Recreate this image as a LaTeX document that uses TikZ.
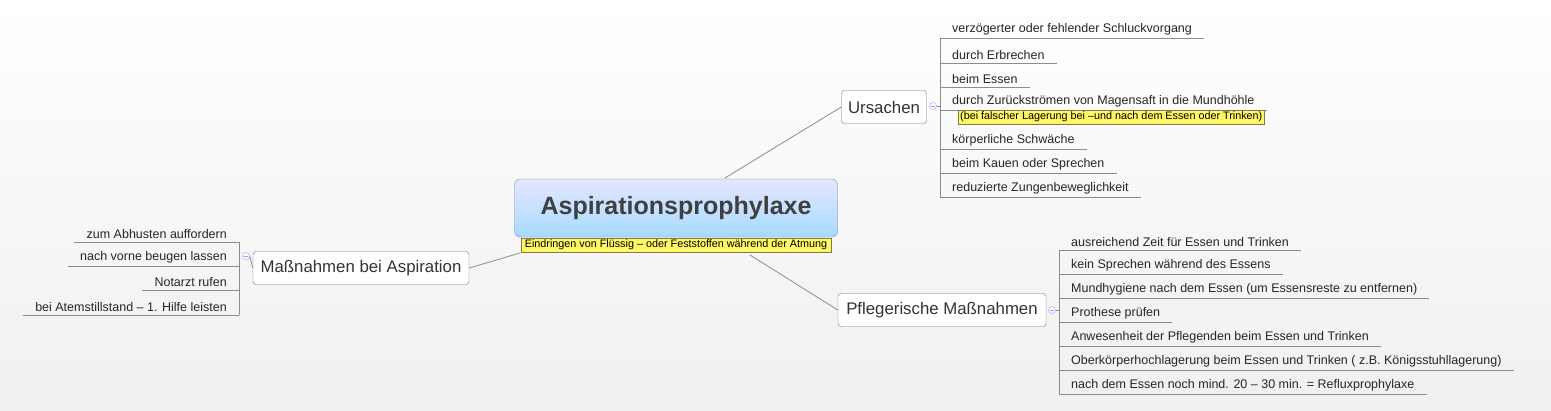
\documentclass[tikz,border=0pt]{standalone}
\usepackage{fontspec}
\setmainfont{Liberation Sans}
\begin{document}
\begin{tikzpicture}[x=1pt,y=-1pt,
  ln/.style={draw=black!45,line width=0.8pt},
  topic/.style={draw=black!55,rounded corners=3pt,fill=white,inner xsep=6pt,minimum height=33pt,font=\fontsize{16.8}{19}\selectfont,text=black!80},
  item/.style={inner xsep=12pt,inner ysep=3pt,font=\fontsize{12.5}{14}\selectfont,text=black!85},
  note/.style={draw=black!40!yellow!70!black,fill=yellow!60,inner sep=2pt,font=\fontsize{10.8}{12}\selectfont},
  knob/.style={circle,draw=blue!40,fill=white,inner sep=0pt,minimum size=7pt}]
\fill[top color=white,bottom color=black!6] (0,0) rectangle (1551,410);
\useasboundingbox (0,0) rectangle (1551,410);
% central
\node[draw=blue!40!black!50,rounded corners=6pt,top color=blue!10,bottom color=blue!40!cyan!35,minimum width=323pt,minimum height=58pt,font=\fontsize{25}{29}\selectfont\bfseries,text=black!75] (c) at (676,208) {Aspirationsprophylaxe};
\node[note,minimum width=310pt] (cn) at (676,245) {Eindringen von Flüssig -- oder Feststoffen während der Atmung};
% topics
\node[topic,minimum width=85pt] (u) at (884,107) {Ursachen};
\node[topic,minimum width=208pt] (p) at (942,310) {Pflegerische Maßnahmen};
\node[topic,minimum width=216pt] (m) at (361,268) {Maßnahmen bei Aspiration};
\coordinate (c1) at (725,178);
\coordinate (c2) at (750,255);
\coordinate (c3) at (520,253);
\draw[ln] (c1) -- (u.west);
\draw[ln] (c2) -- (p.west);
\draw[ln] (c3) -- (m.east);
% knobs
\node[knob] (ku) at (933,106) {};
\node[knob] (kp) at (1052,310) {};
\node[knob] (km) at (246,256) {};
\foreach \k in {ku,kp,km}{\draw[blue!40,line width=0.6pt] ([xshift=-2pt]\k.center) -- ([xshift=2pt]\k.center);}
% Ursachen items
\foreach \n/\y/\t in {u1/38/verzögerter oder fehlender Schluckvorgang,u2/63/durch Erbrechen,u3/87/beim Essen,u4/110/durch Zurückströmen von Magensaft in die Mundhöhle,u5/149/körperliche Schwäche,u6/173/beim Kauen oder Sprechen,u7/197/reduzierte Zungenbeweglichkeit}{
  \node[item,anchor=south west] (\n) at (940,\y) {\t};
  \draw[ln] (\n.south west) -- (\n.south east);}
\node[note,anchor=west] (un) at (958,117) {(bei falscher Lagerung bei --und nach dem Essen oder Trinken)};
\draw[ln] (ku.east) -- (940,106);
\draw[ln] (u1.south west) -- (u7.south west);
% Pflegerische items
\foreach \n/\y/\t in {p1/250/ausreichend Zeit für Essen und Trinken,p2/274/kein Sprechen während des Essens,p3/298/Mundhygiene nach dem Essen (um Essensreste zu entfernen),p4/322/Prothese prüfen,p5/346/Anwesenheit der Pflegenden beim Essen und Trinken,p6/370/Oberkörperhochlagerung beim Essen und Trinken ( z.B. Königsstuhllagerung),p7/394/nach dem Essen noch mind. 20 -- 30 min. = Refluxprophylaxe}{
  \node[item,anchor=south west] (\n) at (1059,\y) {\t};
  \draw[ln] (\n.south west) -- (\n.south east);}
\draw[ln] (kp.east) -- (1059,310);
\draw[ln] (p1.south west) -- (p7.south west);
% Maßnahmen items
\foreach \n/\y/\t in {m1/242/zum Abhusten auffordern,m2/266/nach vorne beugen lassen,m3/290/Notarzt rufen,m4/315/bei Atemstillstand -- 1. Hilfe leisten}{
  \node[item,anchor=south east] (\n) at (239,\y) {\t};
  \draw[ln] (\n.south west) -- (\n.south east);}
\draw[ln] (km.east) -- (m.west);
\draw[ln] (m1.south east) -- (m4.south east);
\end{tikzpicture}
\end{document}
